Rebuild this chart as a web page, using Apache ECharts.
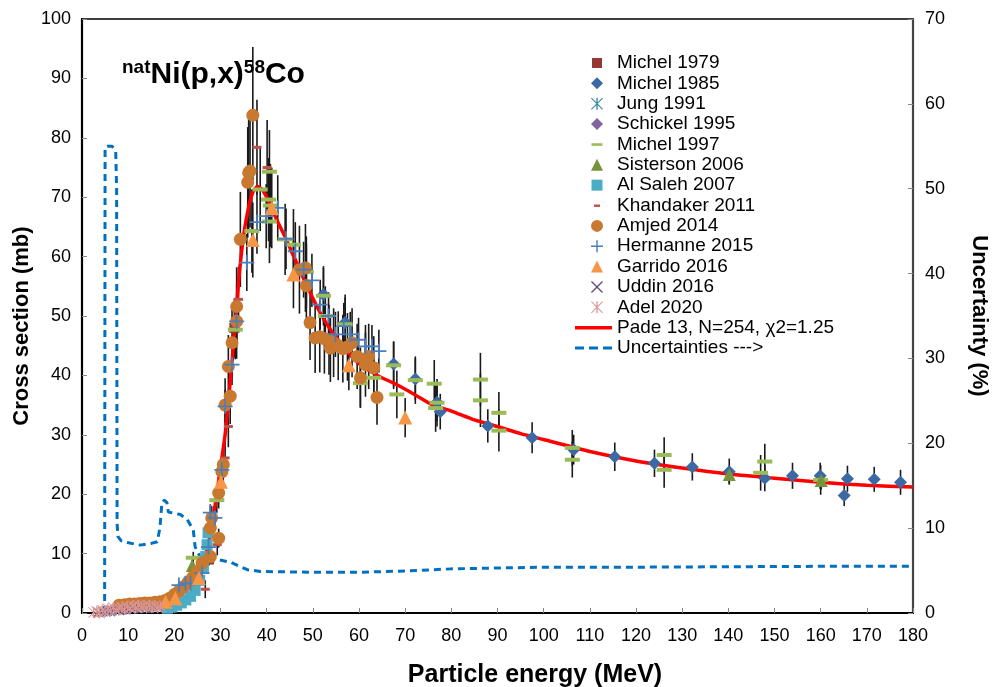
<!DOCTYPE html>
<html><head><meta charset="utf-8">
<script src="https://cdn.jsdelivr.net/npm/echarts@6/dist/echarts.min.js"></script>
<style>html,body{margin:0;padding:0;background:#fff}#c{width:992px;height:687px}</style>
</head><body><div id="c"></div>
<script>
// ---- data: [energy MeV, cross section mb, error mb] ----
const michel1979 = [[27.5, 9.0, 1.0], [33.0, 48.0, 5.0]];
const michel1985 = [[52.3,53.6,4.5],[57.0,48.9,4.2],[67.5,41.9,3.8],[72.2,39.4,3.5],[76.9,35.5,3.2],[77.6,33.9,3.0],[87.9,31.5,2.8],[97.5,29.5,2.6],[106.5,27.5,2.5],[115.4,26.3,2.4],[124.0,25.2,2.3],[132.2,24.6,2.3],[140.2,23.8,2.2],[147.9,22.7,2.2],[153.9,23.1,2.2],[159.9,23.1,2.2],[165.8,22.6,2.2],[165.1,19.8,1.8],[171.6,22.5,2.1],[177.3,22.0,2.1]];
const jung1991 = [[6.0,0.3],[8.0,0.5],[10.5,0.7],[13.0,0.9],[15.5,1.0]];
const schickel1995 = [[7.0,0.5],[9.5,0.6],[12.0,0.8],[14.5,0.9],[17.0,1.1]];
const michel1997 = [[24.1,9.3,1.0],[29.2,19.0,2.0],[33.2,47.7,5.0],[36.8,64.3,7.0],[38.6,71.3,7.0],[40.6,74.3,7.0],[40.4,69.6,7.0],[40.8,68.6,7.0],[40.6,65.9,7.0],[44.0,62.9,6.0],[45.8,62.0,6.0],[48.6,57.4,6.0],[52.3,53.4,5.0],[52.7,50.0,5.0],[57.0,48.6,5.0],[60.3,38.7,4.0],[63.2,39.6,4.0],[67.5,41.7,4.0],[68.2,36.8,4.0],[72.2,39.2,4.0],[76.3,38.6,4.0],[76.9,35.4,4.0],[76.6,34.5,4.0],[86.3,39.3,4.5],[86.3,35.8,4.5],[90.3,33.7,3.5],[90.3,30.7,3.5],[106.2,27.8,3.0],[106.2,25.8,3.0],[126.1,26.6,3.0],[126.1,24.1,3.0],[147.9,25.5,3.0],[147.0,23.6,3.0],[160.0,22.4,2.5]];
const sisterson2006 = [[23.9,8.0,1.0],[140.2,23.3,1.5],[160.1,22.3,1.5]];
const alSaleh2007 = [[18.5,0.8],[19.5,1.0],[20.5,1.3],[21.5,1.7],[22.5,2.2],[23.5,2.8],[24.5,3.8],[25.5,5.5],[26.3,7.5],[26.8,9.5],[27.1,11.5],[27.3,13.5]];
const khandaker2011 = [[26.7,4.0,1.5],[29.3,11.5,1.8],[31.0,26.1,3.0],[31.7,31.4,3.5],[33.9,52.8,5.5],[37.9,78.4,8.0],[40.1,75.0,8.0]];
const amjed2014 = [[8.0,1.3,0.2],[9.2,1.4,0.2],[10.3,1.5,0.2],[11.4,1.5,0.2],[12.5,1.6,0.2],[13.6,1.7,0.2],[14.7,1.7,0.2],[15.8,1.8,0.2],[16.9,1.9,0.3],[18.0,2.1,0.3],[19.0,2.5,0.3],[20.0,3.1,0.4],[21.0,3.7,0.5],[22.0,4.4,0.6],[23.0,5.2,0.7],[24.0,6.0,0.8],[25.0,7.0,0.9],[26.0,8.4,1.1],[27.8,9.5,1.2],[27.8,14.3,1.8],[28.1,16.0,2.0],[29.6,12.6,1.6],[29.6,20.2,2.6],[30.3,23.8,3.0],[30.6,25.0,3.2],[31.0,35.0,4.5],[32.1,36.5,4.7],[31.7,41.5,5.3],[32.5,45.5,5.8],[33.5,49.1,6.3],[33.5,51.6,6.6],[34.3,62.9,8.0],[35.9,72.5,9.3],[36.1,74.1,9.5],[36.4,74.4,9.5],[37.0,83.8,11.5],[47.1,57.8,7.4],[48.4,58.1,7.4],[48.6,55.1,7.0],[49.4,48.9,6.3],[50.5,46.3,5.9],[51.5,46.5,6.0],[52.5,46.2,5.9],[53.5,46.0,5.9],[53.8,44.6,5.7],[54.5,45.5,5.8],[55.5,45.0,5.8],[56.5,44.5,5.7],[57.5,44.8,5.7],[58.5,45.5,5.8],[59.6,43.2,5.5],[60.3,39.6,5.1],[61.4,41.8,5.4],[62.1,43.2,5.5],[63.2,41.3,5.3],[63.9,36.3,4.6]];
const hermanne2015 = [[21.0,4.7,0.4],[22.4,5.0,0.4],[23.5,5.0,0.4],[26.0,6.7,0.6],[27.4,11.1,0.9],[27.8,16.9,1.4],[28.8,16.0,1.3],[30.3,24.1,2.0],[31.0,34.8,2.8],[32.5,41.8,3.4],[33.5,49.1,3.9],[35.7,59.0,4.8],[37.9,65.8,5.3],[39.9,66.8,5.4],[42.4,68.2,5.5],[44.2,63.0,5.1],[46.2,60.9,4.9],[48.0,57.8,4.7],[49.8,56.0,4.5],[51.6,51.9,4.2],[53.4,50.0,4.0],[54.9,46.9,3.8],[56.7,48.3,3.9],[58.1,46.9,3.8],[59.9,46.0,3.7],[61.4,44.9,3.6],[62.8,44.9,3.6],[64.3,44.1,3.6]];
const garrido2016 = [[18.1,1.9,0.2],[20.2,2.5,0.3],[25.3,5.9,0.6],[30.1,22.1,2.2],[37.0,62.8,6.3],[41.1,68.2,6.8],[45.8,57.0,5.7],[57.8,41.7,4.2],[70.0,32.9,3.3]];
const uddin2016 = [[3.5,0.1],[4.5,0.2],[5.5,0.3],[6.5,0.4],[8.0,0.5],[9.5,0.6],[11.0,0.7],[12.5,0.8],[14.0,0.9],[15.5,1.0]];
const adel2020 = [[2.5,0.1],[3.2,0.3],[3.8,0.0],[4.4,0.5],[5.0,0.2],[5.6,0.7],[6.2,0.4],[6.8,0.9],[7.4,0.5],[8.0,0.8],[8.6,1.0],[9.2,0.6],[9.8,1.1],[10.4,0.8],[11.0,1.2],[11.6,0.9],[12.2,1.3],[12.8,1.0],[13.4,1.2],[14.0,0.9],[14.6,1.3],[15.2,1.0],[15.8,1.2],[16.4,0.9],[17.0,1.1]];
// Pade fit [MeV, mb]
const padeFit = [[20,2.5],[22,3.5],[24,5.0],[26,8.0],[27,10.5],[28,14.0],[29,19.0],[30,24.5],[31,30.0],[32,38.0],[33,47.0],[34,56.5],[35,63.5],[36,68.0],[37,70.8],[38,71.8],[39,71.3],[40,70.0],[41,68.3],[42,66.5],[44,63.3],[46,59.8],[48,56.3],[50,53.0],[52,50.0],[54,47.5],[56,45.5],[58,43.5],[60,42.0],[64,40.0],[68,38.5],[72,36.8],[76,35.0],[80,34.0],[85,32.5],[90,31.4],[95,30.2],[100,29.2],[110,27.2],[120,25.6],[130,24.4],[140,23.4],[150,22.7],[160,22.0],[170,21.5],[180,21.2]];
// Uncertainty [MeV, %]
const uncertainty = [[4.9,0],[5.0,54.9],[5.5,55.0],[6.5,55.0],[7.3,54.5],[7.5,50],[7.6,10.5],[7.8,9.0],[8.5,8.5],[9.8,8.3],[12.6,8.0],[15.0,8.2],[16.3,8.4],[16.9,10.1],[17.3,13.0],[17.8,13.3],[18.4,13.0],[18.7,11.9],[21.3,11.6],[22.8,11.0],[24.1,9.8],[24.5,7.8],[25.6,6.6],[29.3,6.3],[32.1,6.0],[35.8,5.1],[38.6,4.9],[50,4.8],[60,4.8],[70,4.95],[80,5.2],[100,5.4],[120,5.4],[140,5.45],[160,5.5],[180,5.5]];

const FONT = '"Liberation Sans", Arial, sans-serif';
const PLUS = 'path://M4.4,0h1.2v4.4h4.4v1.2h-4.4v4.4h-1.2v-4.4h-4.4v-1.2h4.4z';
const XMARK = 'path://M0,0.8L0.8,0L5,4.2L9.2,0L10,0.8L5.8,5L10,9.2L9.2,10L5,5.8L0.8,10L0,9.2L4.2,5Z';
const AST = 'path://M4.45,0h1.1v10h-1.1z M0.6,0L10,9.4L9.4,10L0,0.6Z M9.4,0L10,0.6L0.6,10L0,9.4Z';

const scatterDefs = [
  {name:'Michel 1979', data:michel1979, symbol:'rect', size:10, color:'#953735'},
  {name:'Michel 1985', data:michel1985, symbol:'diamond', size:13, color:'#3C69A3'},
  {name:'Jung 1991', data:jung1991, symbol:AST, size:11, color:'#31859C'},
  {name:'Schickel 1995', data:schickel1995, symbol:'diamond', size:11, color:'#8064A2'},
  {name:'Michel 1997', data:michel1997, symbol:'rect', size:[15,4], color:'#9BBB59'},
  {name:'Sisterson 2006', data:sisterson2006, symbol:'triangle', size:13, color:'#77933C'},
  {name:'Al Saleh 2007', data:alSaleh2007, symbol:'rect', size:11, color:'#4BACC6'},
  {name:'Khandaker 2011', data:khandaker2011, symbol:'rect', size:[9,3], color:'#C0504D'},
  {name:'Amjed 2014', data:amjed2014, symbol:'circle', size:13, color:'#C8782F'},
  {name:'Hermanne 2015', data:hermanne2015, symbol:PLUS, size:15, color:'#4A7EBB'},
  {name:'Garrido 2016', data:garrido2016, symbol:'triangle', size:14, color:'#F79646'},
  {name:'Uddin 2016', data:uddin2016, symbol:XMARK, size:10, color:'#604A7B'},
  {name:'Adel 2020', data:adel2020, symbol:AST, size:11, color:'#D99694'}
];
const FIT_NAME = 'Pade 13, N=254, \u03c72=1.25';
const UNC_NAME = 'Uncertainties --->';
const legendIcons = {
  'Michel 1979':'path://M0,0M12,12M1,1h10v10h-10z',
  'Michel 1997':'path://M0,0M12,12M0.5,4.8h11v2.6h-11z',
  'Al Saleh 2007':'path://M0,0M12,12M0.5,0.5h11v11h-11z',
  'Khandaker 2011':'path://M0,0M12,12M3,5h6v2.4h-6z'
};

const errData = [];
scatterDefs.forEach(d => d.data.forEach(p => { if (p.length > 2) errData.push([p[0], p[1], p[2]]); }));

const series = [{
  type:'custom', name:'err', z:1, silent:true, data:errData,
  renderItem:(params, api) => {
    const x = api.value(0), y = api.value(1), e = api.value(2);
    const a = api.coord([x, y - e]), b = api.coord([x, y + e]);
    return {type:'line', shape:{x1:a[0], y1:a[1], x2:b[0], y2:b[1]}, style:{stroke:'#1a1a1a', lineWidth:1.6}};
  }
}, {
  type:'line', name:FIT_NAME, data:padeFit, z:2, symbol:'none', smooth:0.2,
  lineStyle:{color:'#FF0000', width:3.5}, itemStyle:{color:'#FF0000'}
}, {
  type:'line', name:UNC_NAME, yAxisIndex:1, data:uncertainty, z:2, symbol:'none',
  lineStyle:{color:'#0070C0', width:3, type:[7,5]}, itemStyle:{color:'#0070C0'}
}];
scatterDefs.forEach(d => series.push({
  type:'scatter', name:d.name, data:d.data, symbol:d.symbol, symbolSize:d.size, z:3,
  itemStyle:{color:d.color, opacity:1}
}));

const TITLE_FONT = 'bold 22px ' + FONT;
const chart = echarts.init(document.getElementById('c'), null, {renderer:'canvas'});
chart.setOption({
  animation:false,
  backgroundColor:'#fff',
  title:{
    left:122, top:58, padding:0,
    text:'{s|nat}{b|Ni(p,x)}{s|58}{b|Co}',
    textStyle:{rich:{
      b:{fontFamily:FONT, fontSize:30, fontWeight:'bold', color:'#000', lineHeight:32, verticalAlign:'bottom'},
      s:{fontFamily:FONT, fontSize:19, fontWeight:'bold', color:'#000', lineHeight:16, verticalAlign:'top'}
    }}
  },
  graphic:[
    {type:'text', x:22, y:326, rotation:Math.PI/2, silent:true,
     style:{text:'Cross section (mb)', font:TITLE_FONT, fill:'#000', align:'center', verticalAlign:'middle', textAlign:'center', textVerticalAlign:'middle'}},
    {type:'text', x:979, y:316, rotation:-Math.PI/2, silent:true,
     style:{text:'Uncertainty (%)', font:TITLE_FONT, fill:'#000', align:'center', verticalAlign:'middle', textAlign:'center', textVerticalAlign:'middle'}},
    {type:'text', x:535, y:675, silent:true,
     style:{text:'Particle energy (MeV)', font:'bold 25px ' + FONT, fill:'#000', align:'center', verticalAlign:'middle', textAlign:'center', textVerticalAlign:'middle'}}
  ],
  grid:{left:82, right:79, top:19, bottom:74, show:true, borderColor:'#000', borderWidth:1.5, containLabel:false},
  legend:[{
    left:591, top:53, padding:0, orient:'vertical', itemWidth:12, itemHeight:12, itemGap:0.36, selectedMode:false,
    data:scatterDefs.map(d => legendIcons[d.name] ? {name:d.name, icon:legendIcons[d.name]} : {name:d.name}),
    textStyle:{fontFamily:FONT, fontSize:19, color:'#000', lineHeight:20, padding:[0,0,0,9]}
  }, {
    left:575, top:317.7, padding:0, orient:'vertical', itemWidth:37, itemHeight:12, itemGap:0.36, selectedMode:false,
    data:[
      {name:FIT_NAME, icon:'path://M0,0M37,12M0,4.3h37v3.6h-37z'},
      {name:UNC_NAME, icon:'path://M0,0M37,12M0,4.5h9v3h-9z M14,4.5h9v3h-9z M28,4.5h9v3h-9z'}
    ],
    textStyle:{fontFamily:FONT, fontSize:19, color:'#000', lineHeight:20}
  }],
  xAxis:{
    type:'value', min:0, max:180, interval:10,
    axisLine:{show:true, lineStyle:{color:'#000', width:2.2}},
    axisTick:{show:true, inside:true, length:5, lineStyle:{color:'#888', width:1}},
    axisLabel:{fontFamily:FONT, fontSize:18, color:'#000', margin:14},
    splitLine:{show:false}
  },
  yAxis:[{
    type:'value', min:0, max:100, interval:10, position:'left',
    axisLine:{show:true, lineStyle:{color:'#000', width:2.2}},
    axisTick:{show:true, inside:true, length:5, lineStyle:{color:'#888', width:1}},
    axisLabel:{fontFamily:FONT, fontSize:18, color:'#000', margin:11},
    splitLine:{show:false}
  }, {
    type:'value', min:0, max:70, interval:10, position:'right',
    axisLine:{show:true, lineStyle:{color:'#444', width:2.2}},
    axisTick:{show:true, inside:true, length:5, lineStyle:{color:'#888', width:1}},
    axisLabel:{fontFamily:FONT, fontSize:18, color:'#000', margin:12},
    splitLine:{show:false}
  }],
  series:series
});
</script></body></html>
